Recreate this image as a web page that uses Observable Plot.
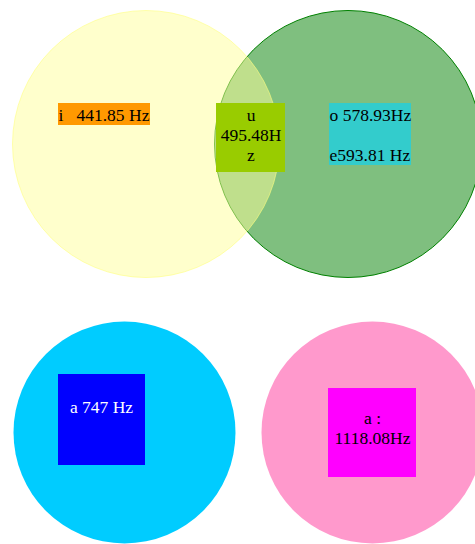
<!DOCTYPE html>
<html>
<head>
<meta charset="utf-8">
<script src="https://cdn.jsdelivr.net/npm/d3@7"></script>
<script src="https://cdn.jsdelivr.net/npm/@observablehq/plot@0.6"></script>
<style>
  html, body { margin: 0; padding: 0; background: #fff; overflow: hidden; }
</style>
</head>
<body>
<div id="chart"></div>
<script>
// Data: vowels and their frequencies
const vowels = ["i", "u", "o", "e", "a", "a"];
const frequencies = [441.85, 495.48, 578.93, 593.81, 747, 1118.08];
const labels = [
  "i   441.85 Hz",
  "u\n495.48H\nz",
  "o 578.93Hz\n\ne593.81 Hz",
  "a 747 Hz",
  "a :\n1118.08Hz"
];

// Layout (pixels) for sets and label boxes
const sets = [
  {name: "green",  cx: 347.5, cy: 143.5, r: 133.5, fill: "green",   fillOpacity: 0.5, stroke: "green",   strokeOpacity: 1},
  {name: "yellow", cx: 145.5, cy: 143.5, r: 133.5, fill: "#ffff99", fillOpacity: 0.5, stroke: "#ffff80", strokeOpacity: 0.6},
  {name: "cyan",   cx: 124,   cy: 432,   r: 111,   fill: "#00ccff", fillOpacity: 1,   stroke: "none",    strokeOpacity: 0},
  {name: "pink",   cx: 372,   cy: 432,   r: 111,   fill: "#ff99cc", fillOpacity: 1,   stroke: "none",    strokeOpacity: 0}
];
const boxes = [
  {x1: 58,  x2: 150, y1: 103, y2: 125, fill: "#ff9900"},
  {x1: 216, x2: 285, y1: 103, y2: 172, fill: "#99cc00"},
  {x1: 329, x2: 411, y1: 103, y2: 165, fill: "#33cccc"},
  {x1: 58,  x2: 145, y1: 374, y2: 465, fill: "#0000ff"},
  {x1: 328, x2: 416, y1: 388, y2: 477, fill: "#ff00ff"}
];
const textPos = [
  {x: 58,    y: 114.5, anchor: "start",  color: "black"},
  {x: 250.5, y: 134.5, anchor: "middle", color: "black"},
  {x: 329,   y: 134.5, anchor: "start",  color: "black"},
  {x: 101,   y: 405.8, anchor: "middle", color: "white"},
  {x: 372,   y: 427.3, anchor: "middle", color: "black"}
];
const texts = labels.map((t, i) => ({text: t, ...textPos[i]}));

const W = 475, H = 544;
const chart = Plot.plot({
  width: W,
  height: H,
  margin: 0,
  x: {domain: [0, W], range: [0, W], axis: null},
  y: {domain: [0, H], range: [0, H], axis: null},
  style: {background: "white", overflow: "hidden"},
  marks: [
    ...sets.map(s => Plot.dot([s], {
      x: "cx", y: "cy", r: s.r,
      fill: s.fill, fillOpacity: s.fillOpacity,
      stroke: s.stroke, strokeOpacity: s.strokeOpacity, strokeWidth: 1
    })),
    Plot.rect(boxes, {x1: "x1", x2: "x2", y1: "y1", y2: "y2", fill: d => d.fill}),
    ...texts.map(t => Plot.text([t], {
      x: "x", y: "y", text: "text",
      textAnchor: t.anchor,
      lineAnchor: "middle",
      lineHeight: 20 / 17.5,
      fill: t.color,
      fontSize: 17.5,
      fontFamily: "Liberation Serif",
      fontWeight: "normal"
    }))
  ]
});
chart.querySelectorAll("text").forEach(el => el.setAttribute("xml:space", "preserve"));
chart.querySelectorAll("text, tspan").forEach(el => el.style.whiteSpace = "pre");
document.getElementById("chart").appendChild(chart);
</script>
</body>
</html>
